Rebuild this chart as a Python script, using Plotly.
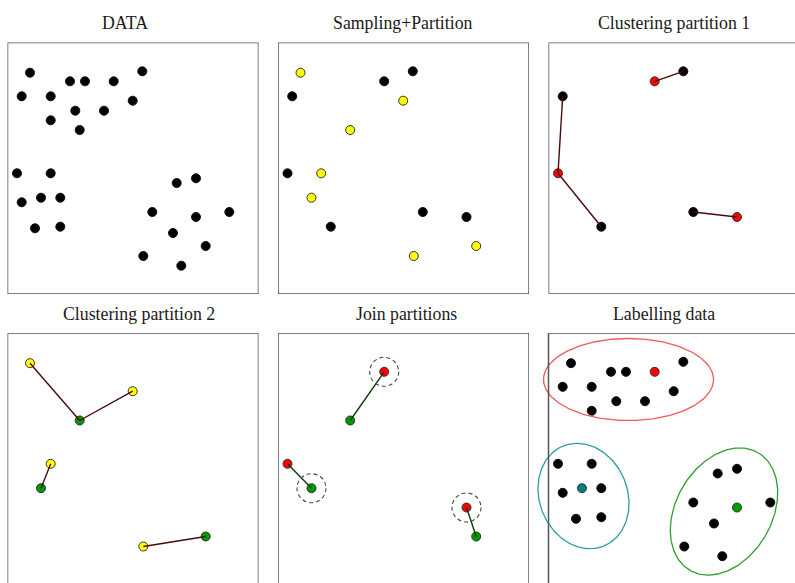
import numpy as np
import plotly.graph_objects as go

# ---- data (panel-relative units, y grows downward) ----
px_x = [22.5, 62.5, 77.5, 106.2, 134.8, 14.2, 43.2, 67.8, 96.5, 125.2, 43.2, 72.2,
        9.5, 43.2, 14.2, 33.5, 52.8, 27.5, 52.8,
        169.2, 188.5, 144.8, 188.5, 221.8, 165.5, 198.2, 135.8, 173.8]
px_y = [30.2, 38.8, 38.8, 38.8, 28.8, 53.8, 53.8, 68.2, 68.2, 58.2, 77.8, 87.5,
        130.8, 130.8, 159.8, 155.2, 155.2, 185.8, 184.2,
        140.5, 135.8, 169.5, 174.5, 169.5, 190.5, 203.5, 213.5, 223.2]

part1 = [3, 4, 5, 12, 18, 21, 22]
part2 = [0, 9, 11, 13, 15, 25, 26]
med1 = [3, 12, 22]
links1 = [(5, 12), (12, 18), (3, 4), (21, 22)]
med2 = [11, 15, 25]
links2 = [(0, 11), (11, 9), (13, 15), (26, 25)]
join_links = [(3, 11), (12, 15), (22, 25)]
join_circled = [3, 15, 22]
label_excluded = [11, 25]
label_special = {3: "#ff0000", 15: "#008080", 22: "#00a000"}

# ellipses: center x, center y, semi-axis a, semi-axis b, angle (deg)
ell_cx = [80, 35, 175.5]
ell_cy = [46.5, 163, 178.5]
ell_a = [85, 44, 48]
ell_b = [41, 54, 68]
ell_ang = [0, -22, 30]
ell_col = ["#f05a5a", "#2aa0a0", "#2f9f2f"]

titles = ["DATA", "Sampling+Partition", "Clustering partition 1",
          "Clustering partition 2", "Join partitions", "Labelling data"]
title_cx = [124.5, 402.5, 674, 138.5, 406.7, 664]

W, H = 795, 583
col_left = [7.5, 278, 548.5]
panel_w = 251
row_top = [42.5, 333]
panel_h = 251.5
pad_left = [0, 0, 0, 0, 0, 18]   # extra room left of panel so ellipses are not clipped

BLACK = "#000000"
YELLOW = "#ffff00"
RED = "#ff0000"
GREEN = "#009900"
EDGE = "#333333"
MS = 9

fig = go.Figure()
layout_axes = {}
shapes = []
annotations = []

for i in range(6):
    r, c = divmod(i, 3)
    left = col_left[c]
    right = min(left + panel_w, W)
    top = row_top[r]
    bottom = min(top + panel_h, H)
    pl = pad_left[i]
    xd = [(left - pl) / W, right / W]
    yd = [(H - bottom) / H, (H - top) / H]
    n = i + 1
    suffix = "" if n == 1 else str(n)
    layout_axes["xaxis" + suffix] = dict(domain=xd, range=[-pl, right - left], visible=False,
                                         fixedrange=True, anchor="y" + suffix)
    layout_axes["yaxis" + suffix] = dict(domain=yd, range=[bottom - top, 0], visible=False,
                                         fixedrange=True, anchor="x" + suffix)
    # border
    shapes.append(dict(type="rect", xref="x" + suffix, yref="y" + suffix,
                       x0=0, x1=panel_w, y0=0, y1=panel_h,
                       line=dict(color="#555555", width=1.5), layer="above"))
    annotations.append(dict(text=titles[i], x=title_cx[i] / W, xref="paper",
                            y=(H - (top - 19.5)) / H, yref="paper",
                            xanchor="center", yanchor="middle", showarrow=False,
                            font=dict(family="Liberation Serif", size=17.8, color="#1a1a1a")))


def pts(idx, color, ax, edge=EDGE):
    fig.add_trace(go.Scatter(x=[px_x[k] for k in idx], y=[px_y[k] for k in idx],
                             mode="markers", xaxis="x" + ax, yaxis="y" + ax,
                             marker=dict(size=MS, color=color, line=dict(color=edge, width=1)),
                             showlegend=False, hoverinfo="skip"))


def links(pairs, color, ax):
    xs, ys = [], []
    for a, b in pairs:
        xs += [px_x[a], px_x[b], None]
        ys += [px_y[a], px_y[b], None]
    fig.add_trace(go.Scatter(x=xs, y=ys, mode="lines", xaxis="x" + ax, yaxis="y" + ax,
                             line=dict(color=color, width=1.4), showlegend=False,
                             hoverinfo="skip"))


allidx = list(range(len(px_x)))
# Panel 1
pts(allidx, BLACK, "", edge="#111111")
# Panel 2
pts(part1, BLACK, "2", edge="#111111")
pts(part2, YELLOW, "2")
# Panel 3
pts([k for k in part1 if k not in med1], BLACK, "3", edge="#111111")
pts(med1, RED, "3")
links(links1, "#4a0a0a", "3")
# Panel 4
pts([k for k in part2 if k not in med2], YELLOW, "4")
pts(med2, GREEN, "4")
links(links2, "#4a0a0a", "4")
# Panel 5
pts(med1, RED, "5")
pts(med2, GREEN, "5")
links(join_links, "#0a3a0a", "5")
for k in join_circled:
    shapes.append(dict(type="circle", xref="x5", yref="y5",
                       x0=px_x[k] - 14.5, x1=px_x[k] + 14.5,
                       y0=px_y[k] - 14.5, y1=px_y[k] + 14.5,
                       line=dict(color="#444444", width=1.1, dash="4px,3px")))
# Panel 6
plain = [k for k in allidx if k not in label_excluded and k not in label_special]
pts(plain, BLACK, "6", edge="#111111")
for k, col in label_special.items():
    pts([k], col, "6")
t = np.linspace(0, 2 * np.pi, 240)
for j in range(len(ell_cx)):
    th = np.deg2rad(ell_ang[j])
    ex = ell_cx[j] + ell_a[j] * np.cos(t) * np.cos(th) - ell_b[j] * np.sin(t) * np.sin(th)
    ey = ell_cy[j] + ell_a[j] * np.cos(t) * np.sin(th) + ell_b[j] * np.sin(t) * np.cos(th)
    fig.add_trace(go.Scatter(x=ex, y=ey, mode="lines", xaxis="x6", yaxis="y6",
                             line=dict(color=ell_col[j], width=1.3), showlegend=False,
                             hoverinfo="skip"))

fig.update_layout(width=W, height=H, margin=dict(l=0, r=0, t=0, b=0),
                  paper_bgcolor="white", plot_bgcolor="white",
                  shapes=shapes, annotations=annotations, **layout_axes)
fig.write_html("out.html", config={"displayModeBar": False},
               post_script="document.body.style.margin='0';document.body.style.overflow='hidden';")
